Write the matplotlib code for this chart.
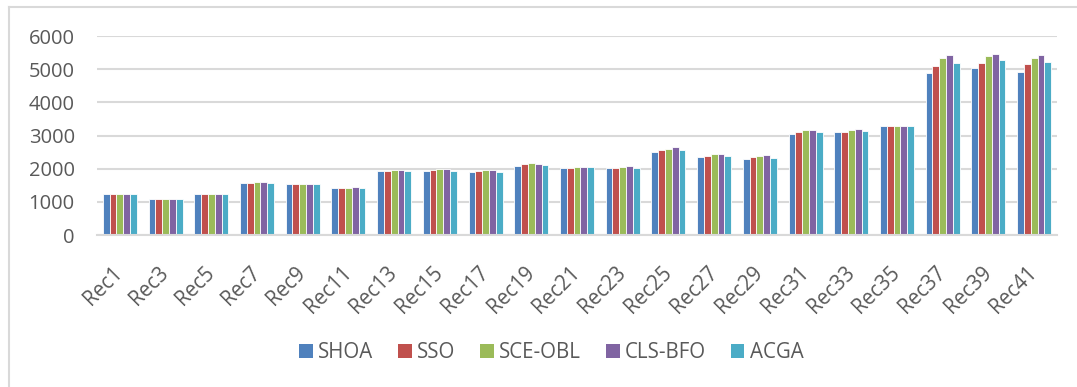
import numpy as np
import matplotlib as mpl
mpl.use('Agg')
import matplotlib.pyplot as plt
from matplotlib.lines import Line2D
from matplotlib.patches import Patch

categories = ['Rec%d' % i for i in range(1, 42, 2)]

shoa   = [1240, 1090, 1240, 1565, 1535, 1425, 1916, 1939, 1898, 2091, 2010,
          2010, 2508, 2365, 2288, 3044, 3115, 3276, 4889, 5040, 4909]
sso    = [1250, 1100, 1240, 1565, 1535, 1425, 1926, 1959, 1919, 2132, 2010,
          2030, 2569, 2386, 2349, 3105, 3115, 3276, 5091, 5192, 5141]
sceobl = [1250, 1100, 1240, 1585, 1535, 1425, 1956, 1990, 1949, 2162, 2061,
          2061, 2589, 2447, 2369, 3175, 3155, 3286, 5323, 5393, 5333]
clsbfo = [1250, 1100, 1240, 1585, 1535, 1445, 1956, 1990, 1959, 2142, 2061,
          2071, 2640, 2447, 2419, 3175, 3196, 3296, 5433, 5464, 5433]
acga   = [1250, 1100, 1240, 1565, 1535, 1425, 1929, 1939, 1898, 2101, 2041,
          2010, 2548, 2386, 2319, 3105, 3135, 3276, 5192, 5282, 5212]

series = [('SHOA', shoa, '#4F81BD'),
          ('SSO', sso, '#C0504D'),
          ('SCE-OBL', sceobl, '#9BBB59'),
          ('CLS-BFO', clsbfo, '#8064A2'),
          ('ACGA', acga, '#4BACC6')]

plt.rcParams['font.family'] = ['Open Sans', 'DejaVu Sans']
txt = '#595959'
grid = '#D9D9D9'

fig = plt.figure(figsize=(10.77, 3.87), dpi=100)
ax = fig.add_axes([97/1077, 1-235/387, 960/1077, 199/387])

x = np.arange(len(categories))
w = 0.149
for i, (name, vals, col) in enumerate(series):
    ax.bar(x + (i - 2) * w, vals, width=w, color=col, edgecolor='white',
           linewidth=0.6, label=name, zorder=3)

ax.set_xlim(-0.5, len(categories) - 0.5)
ax.set_ylim(0, 6000)
ax.set_yticks(np.arange(0, 6001, 1000))
ax.yaxis.grid(True, color=grid, linewidth=1.5, zorder=0)
ax.set_axisbelow(True)
for s in ['top', 'right', 'left']:
    ax.spines[s].set_visible(False)
ax.spines['bottom'].set_color(grid)
ax.spines['bottom'].set_linewidth(1.5)
ax.spines['bottom'].set_zorder(4)

ax.set_xticks(x)
ax.set_xticklabels(categories, rotation=45, ha='right', va='center',
                   rotation_mode='anchor')
ax.tick_params(axis='x', length=0, pad=25, labelsize=14.8, labelcolor=txt)
ax.tick_params(axis='y', length=0, pad=16, labelsize=14.5, labelcolor=txt)

handles = [Patch(facecolor=c, edgecolor='none') for _, _, c in series]
fig.legend(handles, [n for n, _, _ in series], loc='center',
           bbox_to_anchor=(551/1077, 1-353/387), ncol=5, frameon=False,
           handlelength=0.68, handleheight=0.68, handletextpad=0.25,
           columnspacing=1.2, fontsize=14.8, labelcolor=txt)

# chart area border
fig.add_artist(Line2D([8.5/1077, 8.5/1077], [0, 1-7/387], color=grid, lw=1.5,
                      transform=fig.transFigure))
fig.add_artist(Line2D([8.5/1077, 1], [1-7/387, 1-7/387], color=grid, lw=1.5,
                      transform=fig.transFigure))

fig.savefig('out.png', dpi=100)
